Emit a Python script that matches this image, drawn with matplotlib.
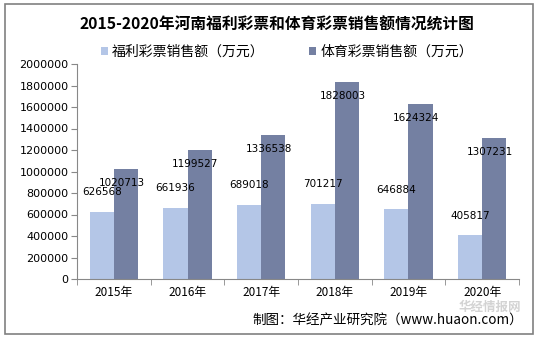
import numpy as np
import matplotlib.pyplot as plt
from matplotlib.patches import Rectangle

plt.rcParams['font.family'] = ['Noto Sans CJK SC', 'DejaVu Sans']

years = ['2015年', '2016年', '2017年', '2018年', '2019年', '2020年']
welfare = [626568, 661936, 689018, 701217, 646884, 405817]
sports = [1020713, 1199527, 1336538, 1828003, 1624324, 1307231]
yticks = [0, 200000, 400000, 600000, 800000, 1000000, 1200000,
          1400000, 1600000, 1800000, 2000000]

c_light = '#b4c6e7'
c_dark = '#7480a2'

fig = plt.figure(figsize=(5.38, 3.38), dpi=100)
ax = fig.add_axes([77 / 538, 1 - 279 / 338, 442 / 538, 215 / 338])

x = np.arange(len(years))
w = 0.33
b1 = ax.bar(x - w / 2, welfare, w, color=c_light, label='福利彩票销售额（万元）')
b2 = ax.bar(x + w / 2, sports, w, color=c_dark, label='体育彩票销售额（万元）')

for xi, v in zip(x, welfare):
    ax.annotate(str(v), (xi - w / 2, v), xytext=(0, 14), textcoords='offset points',
                ha='center', va='center', fontsize=7.5, family='DejaVu Sans')
for xi, v in zip(x, sports):
    ax.annotate(str(v), (xi + w / 2, v), xytext=(-3, -10), textcoords='offset points',
                ha='center', va='center', fontsize=7.5, family='DejaVu Sans')

ax.set_xlim(-0.5, len(years) - 0.5)
ax.set_ylim(0, 2000000)
ax.set_yticks(yticks)
ax.set_yticklabels([str(t) for t in yticks], fontsize=8, family='DejaVu Sans')
ax.set_xticks(x)
ax.set_xticklabels(years, fontsize=8.5)
ax.set_xticks(np.arange(len(years) + 1) - 0.5, minor=True)
ax.tick_params(axis='x', which='major', length=0, pad=5)
ax.tick_params(axis='x', which='minor', length=4, color='#888888')
ax.tick_params(axis='y', length=4, color='#888888', pad=2)
for s in ['top', 'right']:
    ax.spines[s].set_visible(False)
ax.spines['left'].set_color('#888888')
ax.spines['bottom'].set_color('#888888')

fig.text(277 / 538, 1 - 25 / 338, '2015-2020年河南福利彩票和体育彩票销售额情况统计图',
         ha='center', va='center', fontsize=11.3, fontweight='bold')
fig.legend(handles=[b1, b2], loc='center', bbox_to_anchor=(287 / 538, 1 - 52 / 338),
           ncol=2, frameon=False, fontsize=10, handlelength=0.5, handleheight=0.5,
           handletextpad=0.3, columnspacing=3.2)

# watermark
fig.text(490 / 538, 1 - 307 / 338, '华经情报网', ha='center', va='center',
         fontsize=9, fontweight='bold', color='#c8c8c8', alpha=0.8)

fig.text(252 / 538, 1 - 321 / 338, '制图：华经产业研究院（www.huaon.com）',
         ha='left', va='center', fontsize=9.75)

fig.patches.append(Rectangle((5 / 538, 4 / 338), 528 / 538, 330 / 338,
                             transform=fig.transFigure, fill=False,
                             edgecolor='#808080', linewidth=1.2))

fig.savefig('out.png', dpi=100)
